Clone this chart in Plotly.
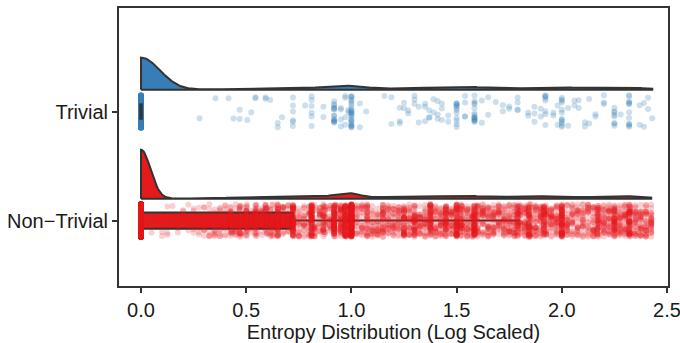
import numpy as np
import plotly.graph_objects as go

# ---------------- data ----------------
categories = ["Non\u2212Trivial", "Trivial"]
category_pos = [1, 2]

x_tick_vals = [0.0, 0.5, 1.0, 1.5, 2.0, 2.5]
x_tick_labels = ["0.0", "0.5", "1.0", "1.5", "2.0", "2.5"]

# Trivial: entropy values and how many observations sit at each value
trivial_values = [0.0, 0.278, 0.354, 0.416, 0.44, 0.469, 0.505, 0.524, 0.544, 0.592,
                  0.614, 0.65, 0.67, 0.722, 0.78, 0.811, 0.867, 0.918, 0.95, 0.971,
                  0.985, 1.0, 1.04, 1.07, 1.157, 1.19, 1.23, 1.25, 1.27, 1.3,
                  1.32, 1.35, 1.37, 1.39, 1.41, 1.43, 1.46, 1.5, 1.54, 1.585,
                  1.62, 1.65, 1.686, 1.72, 1.75, 1.79, 1.84, 1.87, 1.9, 1.922,
                  1.96, 1.98, 2.0, 2.03, 2.06, 2.08, 2.11, 2.13, 2.16, 2.2,
                  2.25, 2.28, 2.32, 2.37, 2.39, 2.41, 2.43]
trivial_counts = [400, 1, 1, 1, 1, 2, 1, 1, 2, 2,
                  1, 2, 1, 6, 1, 6, 2, 15, 4, 4,
                  2, 25, 2, 1, 1, 2, 3, 2, 2, 3,
                  2, 3, 3, 2, 3, 3, 2, 12, 4, 15,
                  2, 2, 1, 2, 2, 4, 2, 3, 2, 8,
                  2, 2, 12, 2, 2, 2, 2, 2, 2, 3,
                  8, 1, 12, 2, 2, 2, 1]

# Non-Trivial: background cloud of values and counts
nontrivial_cloud_values = [0.05, 0.075, 0.1, 0.125, 0.15, 0.175, 0.2, 0.225, 0.25, 0.275,
                           0.3, 0.325, 0.35, 0.375, 0.4, 0.425, 0.45, 0.475, 0.5, 0.525,
                           0.55, 0.575, 0.6, 0.625, 0.65, 0.675, 0.7, 0.725, 0.75, 0.775,
                           0.8, 0.825, 0.85, 0.875, 0.9, 0.925, 0.95, 0.975, 1.0, 1.025,
                           1.05, 1.075, 1.1, 1.125, 1.15, 1.175, 1.2, 1.225, 1.25, 1.275,
                           1.3, 1.325, 1.35, 1.375, 1.4, 1.425, 1.45, 1.475, 1.5, 1.525,
                           1.55, 1.575, 1.6, 1.625, 1.65, 1.675, 1.7, 1.725, 1.75, 1.775,
                           1.8, 1.825, 1.85, 1.875, 1.9, 1.925, 1.95, 1.975, 2.0, 2.025,
                           2.05, 2.075, 2.1, 2.125, 2.15, 2.175, 2.2, 2.225, 2.25, 2.275,
                           2.3, 2.325, 2.35, 2.375, 2.4, 2.425]
nontrivial_cloud_counts = [1, 2, 2, 3, 3, 4, 4, 5, 6, 7,
                           9, 10, 11, 12, 13, 14, 14, 15, 15, 15,
                           15, 16, 16, 17, 18, 18, 18, 20, 20, 20,
                           20, 20, 20, 20, 20, 20, 20, 20, 20, 20,
                           21, 21, 21, 23, 23, 25, 25, 25, 26, 26,
                           26, 26, 26, 26, 26, 28, 28, 28, 28, 28,
                           29, 29, 29, 29, 29, 29, 29, 29, 29, 29,
                           30, 30, 30, 30, 30, 30, 30, 30, 30, 27,
                           24, 24, 24, 24, 26, 28, 30, 30, 30, 30,
                           30, 30, 30, 30, 30, 28]
# Non-Trivial: frequent exact entropy values
nontrivial_spike_values = [0.0, 0.43, 0.469, 0.503, 0.544, 0.592, 0.614, 0.65, 0.722, 0.811,
                           0.867, 0.918, 0.95, 0.971, 1.0, 1.075, 1.15, 1.25, 1.3, 1.376,
                           1.448, 1.5, 1.52, 1.585, 1.79, 1.843, 1.915, 2.0, 2.17, 2.25,
                           2.32]
nontrivial_spike_counts = [3700, 15, 20, 15, 20, 20, 10, 25, 60, 70,
                           25, 80, 30, 80, 220, 15, 15, 25, 25, 40,
                           30, 50, 20, 60, 30, 40, 35, 60, 25, 30,
                           40]

# box statistics
box_q1 = [0.0, 0.0]
box_median = [0.0, 0.0]
box_q3 = [0.724, 0.0]
box_lowerfence = [0.0, 0.0]
box_upperfence = [1.80, 0.0]

colors = ["#E41A1C", "#377EB8"]
point_rgba = ["rgba(228,26,28,0.2)", "rgba(55,126,184,0.25)"]

# ---------------- helpers ----------------
def expand(values, counts):
    return np.repeat(np.asarray(values, float), np.asarray(counts, int))

def kde(samples, grid, bw):
    d = (grid[:, None] - samples[None, :]) / bw
    return np.exp(-0.5 * d * d).sum(axis=1) / (len(samples) * bw * np.sqrt(2 * np.pi))

nt = np.concatenate([expand(nontrivial_cloud_values, nontrivial_cloud_counts),
                     expand(nontrivial_spike_values, nontrivial_spike_counts)])
tr = expand(trivial_values, trivial_counts)
samples = [nt, tr]
bandwidths = [0.045, 0.09]
violin_height = [0.45, 0.295]
violin_offset = 0.2
jitter = 0.15
box_width = 0.15

rng = np.random.default_rng(11)

fig = go.Figure()

# half violins (clouds)
for i in range(2):
    s = samples[i]
    grid = np.linspace(0, s.max(), 600)
    dens = kde(s, grid, bandwidths[i])
    base = category_pos[i] + violin_offset
    yv = base + dens / dens.max() * violin_height[i]
    xs = np.concatenate([[0.0], grid, [grid[-1]], [0.0]])
    ys = np.concatenate([[base], yv, [base], [base]])
    fig.add_trace(go.Scatter(x=xs, y=ys, mode="lines", fill="toself",
                             fillcolor=colors[i], line=dict(color="#333333", width=2),
                             hoverinfo="skip", showlegend=False))

# rain (jittered points)
for i in range(2):
    s = samples[i]
    yj = category_pos[i] + rng.uniform(-jitter, jitter, len(s))
    fig.add_trace(go.Scatter(x=s, y=yj, mode="markers",
                             marker=dict(size=6, color=point_rgba[i], line=dict(width=0)),
                             hoverinfo="skip", showlegend=False))

# boxes
for i in range(2):
    fig.add_trace(go.Box(orientation="h", y=[category_pos[i]],
                         q1=[box_q1[i]], median=[box_median[i]], q3=[box_q3[i]],
                         lowerfence=[box_lowerfence[i]], upperfence=[box_upperfence[i]],
                         width=box_width, whiskerwidth=0, boxpoints=False,
                         fillcolor=colors[i], line=dict(color="#333333", width=2),
                         hoverinfo="skip", showlegend=False))
    # a box whose quartiles coincide collapses to a line: make it visible
    if box_q3[i] - box_q1[i] == 0:
        fig.add_trace(go.Scatter(x=[box_median[i], box_median[i]],
                                 y=[category_pos[i] - box_width / 2, category_pos[i] + box_width / 2],
                                 mode="lines", line=dict(color="#333333", width=3.5),
                                 hoverinfo="skip", showlegend=False))

px0 = 141.0
ppu = 210.4
fig.update_layout(
    width=680, height=343,
    margin=dict(l=119, r=12, t=8, b=57, autoexpand=False),
    paper_bgcolor="white", plot_bgcolor="white",
    font=dict(family="Liberation Sans, Arial, sans-serif", size=20, color="#1a1a1a"),
    showlegend=False,
)
fig.update_xaxes(range=[(119 - px0) / ppu, (668 - px0) / ppu],
                 tickvals=x_tick_vals, ticktext=x_tick_labels,
                 ticks="outside", ticklen=5, tickwidth=1.5, tickcolor="#333333",
                 showline=True, mirror=True, linecolor="#333333", linewidth=2,
                 showgrid=False, zeroline=False, ticklabeloverflow="allow",
                 tickfont=dict(size=20),
                 title=dict(text="Entropy Distribution (Log Scaled)", font=dict(size=20), standoff=2))
fig.update_yaxes(range=[0.40, 2.95], tickvals=category_pos, ticktext=categories,
                 ticks="outside", ticklen=5, tickwidth=1.5, tickcolor="#333333",
                 showline=True, mirror=True, linecolor="#333333", linewidth=2,
                 showgrid=False, zeroline=False, tickfont=dict(size=20))

fig.write_html("out.html", config={"displayModeBar": False},
               post_script="document.body.style.margin='0';")
